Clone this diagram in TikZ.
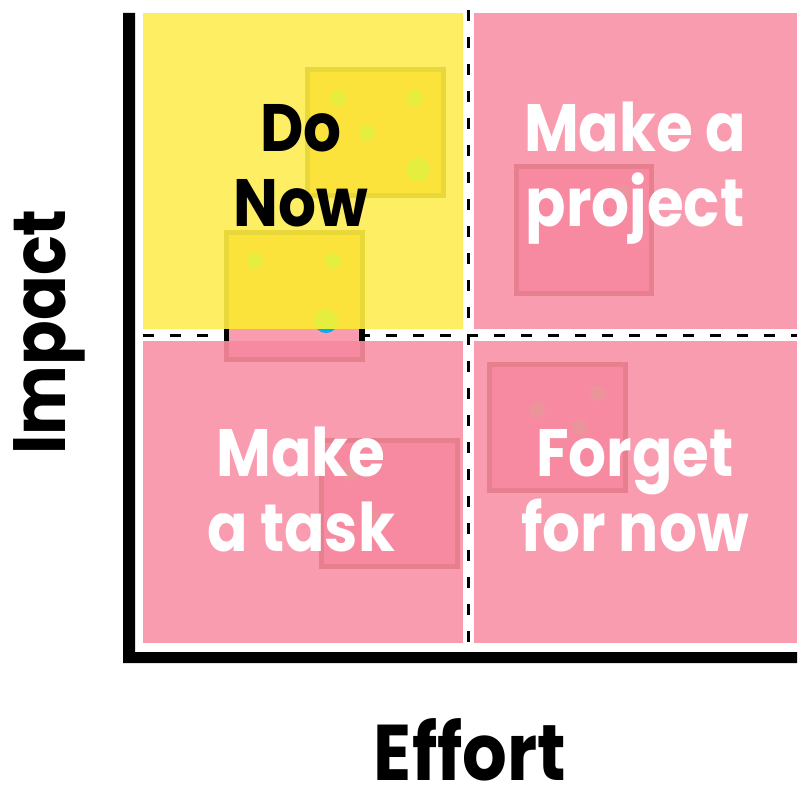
\documentclass[tikz,border=0pt]{standalone}
\usepackage{fontspec}
\setmainfont{Poppins}[FakeStretch=0.89]
\usepackage{xcolor}
\usetikzlibrary{positioning}

\definecolor{quadyellow}{HTML}{FDEE64}
\definecolor{quadpink}{HTML}{F99CAF}
\definecolor{noteyellow}{HTML}{FCE33C}
\definecolor{noteyellowedge}{HTML}{E9D83A}
\definecolor{notepink}{HTML}{F78AA1}
\definecolor{notepinkedge}{HTML}{E6808F}
\definecolor{dotgreen}{HTML}{E5EE3E}
\definecolor{dotpink}{HTML}{EC949C}

\tikzset{
    divider/.style={line width=3pt, dash pattern=on 11pt off 16pt},
    ynote/.style={fill=noteyellow, draw=noteyellowedge, line width=5pt},
    pnote/.style={fill=notepink, draw=notepinkedge, line width=5pt},
    quadlabel/.style={font=\bfseries\fontsize{67}{75}\selectfont, align=center, inner sep=0pt, text depth=0pt, text=white},
    axislabel/.style={font=\bfseries\fontsize{79}{79}\selectfont, inner sep=0pt, anchor=base}
}

\begin{document}
\begin{tikzpicture}[x=1pt, y=-1pt]
    \useasboundingbox (0,0) rectangle (810,794);

    % Quadrants
    \fill[quadyellow] (143,13) rectangle (463,329);
    \fill[quadpink] (474,13) rectangle (797,329);
    \fill[quadpink] (143,341) rectangle (463,643);
    \fill[quadpink] (474,341) rectangle (797,643);

    % Dashed dividers
    \draw[divider] (468,10) -- (468,655);
    \draw[divider] (143,335) -- (797,335);

    % Sticky notes
    \draw[ynote] (307.5,69.5) rectangle (443.5,195.5);
    \fill[dotgreen] (338,98) circle (8) (415,98) circle (8) (367,133) circle (8) (418,170) circle (12);

    \begin{scope}
        \clip (200,200) rectangle (400,329);
        \draw[ynote] (226.5,232.5) rectangle (362.5,359.5);
        \fill[dotgreen] (255,261) circle (8) (333,261) circle (8) (326,321) circle (12);
    \end{scope}
    \begin{scope}
        \clip (200,329) rectangle (400,341);
        \fill[quadpink] (229,329) rectangle (359,341);
        \fill (224,329) rectangle (229,341);
        \fill (359,329) rectangle (365,341);
        \fill[cyan] (326,321) circle (12);
    \end{scope}
    \begin{scope}
        \clip (200,341) rectangle (400,400);
        \draw[pnote] (226.5,232.5) rectangle (362.5,359.5);
    \end{scope}

    \draw[pnote] (516.5,166.5) rectangle (651.5,293.5);
    \fill[dotpink] (623,193) circle (8);

    \draw[pnote] (321.5,440.5) rectangle (457.5,566.5);
    \fill[dotpink] (350,473) circle (8) (370,517) circle (8);

    \draw[pnote] (489.5,364.5) rectangle (625.5,490.5);
    \fill[dotpink] (537,410) circle (8) (598,393) circle (8) (580,427) circle (8);

    % Quadrant labels
    \node[quadlabel, text=black] (donow) at (301,165) {Do\\Now};
    \node[quadlabel] (project) at (635,164) {Make a\\project};
    \node[quadlabel] (task) at (301,489) {Make\\a task};
    \node[quadlabel] (forget) at (635,490) {Forget\\for now};

    % Axes
    \fill (123,13) -- (135,13) -- (135,652) -- (797,652) -- (797,663) -- (123,663) -- cycle;
    \node[axislabel] (effort) at (470,780) {Effort};
    \node[axislabel, font=\bfseries\fontsize{74}{74}\selectfont, rotate=90] (impact) at (65,332) {Impact};
\end{tikzpicture}
\end{document}
